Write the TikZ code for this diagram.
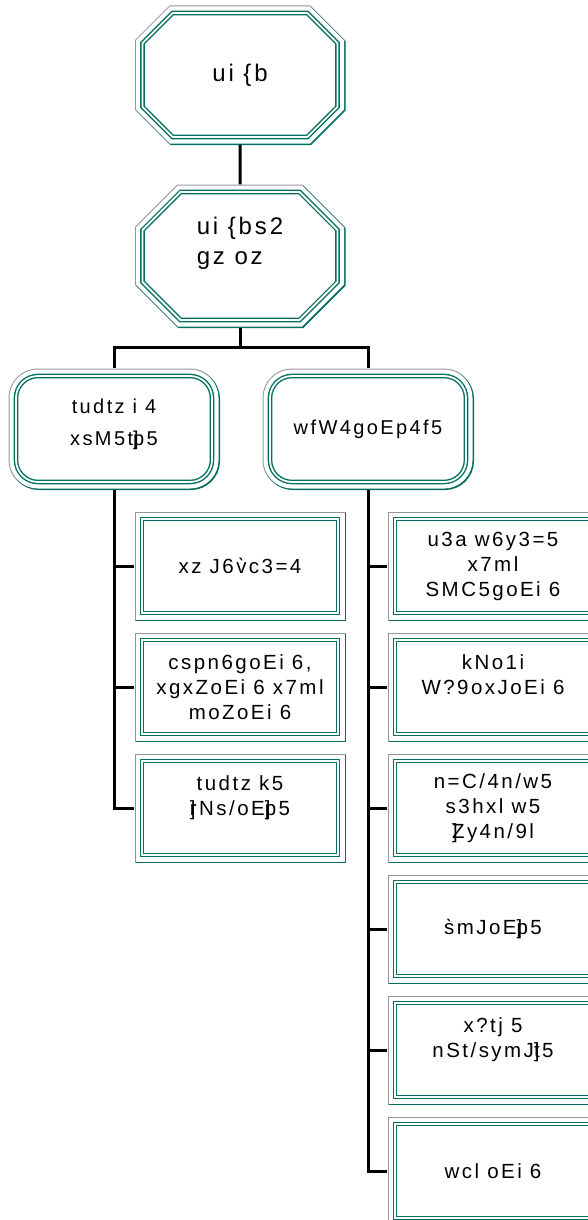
\documentclass[tikz,border=0pt]{standalone}
\usepackage{fontspec}
\setmainfont[LetterSpace=12]{Liberation Sans}
\usepackage{tikz}
\usetikzlibrary{shapes.misc}

\definecolor{boxteal}{RGB}{0,112,96}
\definecolor{framegray}{RGB}{150,150,150}

\tikzset{
	framed/.style={draw=boxteal, double=white, double distance=1.8pt, line width=1.4pt, fill=white,
		preaction={draw=framegray, line width=15pt},
		preaction={draw=boxteal, line width=14pt, transform canvas={shift={(1pt,-1pt)}}},
		preaction={draw=white, line width=13pt},
		align=center, inner sep=0pt, text=black},
	topbox/.style={framed, chamfered rectangle, chamfered rectangle xsep=19pt, chamfered rectangle ysep=19pt,
		minimum width=195pt, minimum height=124pt, font=\fontsize{24}{30}\selectfont},
	groupbox/.style={framed, rounded corners=22pt, minimum width=196pt, minimum height=106pt,
		font=\fontsize{20}{32}\selectfont},
	leafbox/.style={framed, minimum width=196pt, minimum height=94pt, font=\fontsize{20.5}{25}\selectfont},
	conn/.style={line width=3pt, shorten <=7pt, shorten >=7pt}
}

\begin{document}
\begin{tikzpicture}[x=1pt, y=-1pt]
	% Page size
	\useasboundingbox (0,0) rectangle (587,1220);

	% Top of the tree
	\node[topbox] (root) at (240,75) {ui \{b};
	\node[topbox, minimum height=128pt, align=left] (sub) at (240,256) {ui \{bs2\\gz oz\\\mbox{}};

	% The two groups
	\node[groupbox] (grpA) at (114,429) {tudtz i 4\\xsM5t\rlap{]}p5\\[-18pt]\mbox{}};
	\node[groupbox] (grpB) at (368,429) {wfW4goEp4f5};

	% Left group
	\node[leafbox] (a1) at (240,566) {xz J6\`{v}c3=4};
	\node[leafbox] (a2) at (240,687) {cspn6goEi 6,\\xgxZoEi 6 x7ml\\moZoEi 6};
	\node[leafbox] (a3) at (240,808) {tudtz k5\\\rlap{]}rNs/oE\rlap{]}p5\\\mbox{}};

	% Right group
	\node[leafbox] (b1) at (493,566) {u3a w6y3=5\\x7ml\\SMC5goEi 6};
	\node[leafbox] (b2) at (493,687) {kNo1i\\W?9oxJoEi 6\\\mbox{}};
	\node[leafbox] (b3) at (493,808) {n=C/4n/w5\\s3hxl w5\\\rlap{]}Zy4n/9l};
	\node[leafbox] (b4) at (493,929) {\`{s}mJoE\rlap{]}p5};
	\node[leafbox] (b5) at (493,1050) {x?tj 5\\nSt/symJ\rlap{]}t5\\\mbox{}};
	\node[leafbox] (b6) at (493,1171) {wcl oEi 6};

	% Connectors
	\draw[conn] (root) -- (sub);
	\draw[conn] (sub.south) -- ++(0,27) -| (grpA.north);
	\draw[conn] (sub.south) -- ++(0,27) -| (grpB.north);
	\foreach \leaf in {a1,a2,a3}
		\draw[conn] (grpA.south) |- (\leaf.west);
	\foreach \leaf in {b1,b2,b3,b4,b5,b6}
		\draw[conn] (grpB.south) |- (\leaf.west);
\end{tikzpicture}
\end{document}
